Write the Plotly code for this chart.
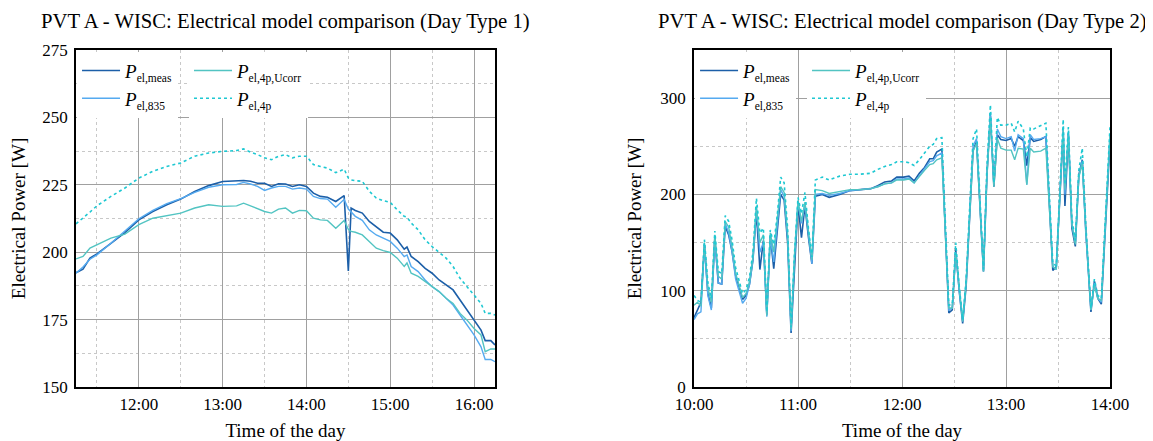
import plotly.graph_objects as go

DAY = "2021-06-01 "

# ---------------- Day Type 1 ----------------
t1 = ["11:15", "11:20", "11:25", "11:30", "11:40", "11:50", "12:00", "12:10", "12:20", "12:30",
      "12:40", "12:50", "13:00", "13:10", "13:15", "13:20", "13:25", "13:30", "13:35", "13:40",
      "13:45", "13:50", "13:55", "14:00", "14:05", "14:10", "14:15", "14:21", "14:27", "14:30",
      "14:32", "14:35", "14:40", "14:45", "14:50", "14:55", "15:00", "15:05", "15:10", "15:12",
      "15:15", "15:20", "15:25", "15:30", "15:35", "15:40", "15:45", "15:50", "15:55", "16:00",
      "16:05", "16:08", "16:12", "16:15"]
meas1 = [192.4, 193.7, 197.8, 199.4, 203.3, 207.3, 212.0, 215.1, 217.6, 219.7,
         222.5, 224.7, 226.2, 226.3, 226.6, 226.3, 225.6, 225.6, 224.4, 225.4,
         225.3, 224.4, 225.0, 224.4, 221.9, 220.7, 220.4, 218.8, 221.0, 193.0,
         216.4, 215.5, 214.5, 211.4, 209.5, 207.4, 207.1, 204.6, 201.1, 201.9,
         198.4, 196.5, 194.0, 192.2, 189.7, 187.9, 186.0, 182.3, 178.6, 175.1,
         171.1, 167.2, 167.2, 165.6]
p835_1 = [192.2, 194.5, 197.4, 199.0, 203.3, 207.7, 212.4, 215.5, 218.0, 219.9,
          222.2, 224.1, 225.0, 225.1, 225.9, 225.3, 224.4, 222.9, 223.8, 224.4,
          224.4, 223.4, 223.8, 223.4, 220.7, 219.9, 219.7, 216.7, 219.6, 216.0,
          215.0, 213.3, 211.8, 208.3, 206.4, 205.2, 204.0, 201.5, 198.4, 199.0,
          194.7, 192.8, 189.7, 187.2, 185.4, 182.9, 180.4, 176.7, 173.0, 169.3,
          164.9, 160.2, 160.2, 159.4]
ucorr1 = [197.5, 198.4, 201.5, 202.7, 205.2, 206.7, 210.2, 212.6, 213.5, 214.5,
          216.4, 217.6, 217.0, 217.2, 218.2, 217.2, 216.4, 215.1, 214.5, 216.0,
          216.4, 214.5, 215.5, 215.4, 212.6, 212.0, 211.8, 208.9, 211.8, 208.5,
          207.7, 207.4, 206.4, 204.0, 201.5, 200.6, 199.9, 197.8, 194.7, 196.0,
          192.2, 191.0, 189.1, 187.2, 185.4, 182.9, 181.0, 177.3, 174.8, 171.7,
          169.3, 163.1, 164.1, 164.1]
p4p_1 = [210.5, 212.6, 214.9, 217.2, 220.7, 223.8, 227.5, 230.0, 231.8, 233.1,
         235.6, 236.8, 237.4, 237.7, 238.3, 237.1, 236.2, 235.0, 234.3, 235.6,
         236.2, 235.0, 235.6, 235.6, 232.5, 231.8, 231.2, 229.5, 230.8, 227.5,
         226.8, 226.5, 226.3, 222.6, 220.1, 219.1, 218.5, 215.7, 213.3, 213.0,
         210.8, 208.3, 204.6, 202.1, 200.0, 197.8, 194.7, 190.3, 187.2, 184.1,
         181.0, 177.3, 177.3, 176.7]

# ---------------- Day Type 2 ----------------
t2 = ["10:00", "10:02", "10:04", "10:06", "10:08", "10:10", "10:12", "10:14", "10:16", "10:18",
      "10:20", "10:22", "10:24", "10:26", "10:28", "10:30", "10:32", "10:34", "10:36", "10:38",
      "10:40", "10:42", "10:44", "10:46", "10:48", "10:50", "10:52", "10:54", "10:56", "10:58",
      "11:00", "11:02", "11:04", "11:06", "11:08", "11:10", "11:14", "11:18", "11:24", "11:30",
      "11:36", "11:42", "11:46", "11:50", "11:54", "11:57", "12:01", "12:04", "12:07", "12:10",
      "12:13", "12:16", "12:18", "12:20", "12:23", "12:27", "12:29", "12:31", "12:33", "12:35",
      "12:37", "12:41", "12:43", "12:47", "12:49", "12:51", "12:53", "12:55", "12:57", "13:00",
      "13:03", "13:05", "13:07", "13:10", "13:12", "13:14", "13:16", "13:20", "13:23", "13:27",
      "13:29", "13:33", "13:34", "13:36", "13:38", "13:40", "13:42", "13:44", "13:46", "13:49",
      "13:51", "13:53", "13:55", "14:00"]
meas2 = [72, 80, 88, 148, 97, 82, 155, 108, 107, 167,
         158, 140, 116, 104, 91, 95, 107, 132, 182, 122,
         152, 75, 157, 123, 166, 200, 194, 150, 56, 130,
         190, 155, 188, 156, 128, 198, 200, 197, 200, 204,
         205, 206, 209, 213, 214, 218, 218, 219, 214, 222,
         228, 237, 237, 244, 247, 77, 80, 143, 100, 66,
         105, 246, 255, 120, 220, 282, 208, 262, 257, 256,
         258, 250, 260, 256, 230, 259, 255, 257, 260, 121,
         125, 265, 188, 263, 165, 146, 220, 236, 165, 78,
         110, 92, 86, 255]
p835_2 = [70, 76, 78, 146, 95, 80, 152, 108, 107, 170,
          160, 140, 112, 100, 87, 92, 106, 132, 186, 140,
          150, 73, 155, 130, 168, 205, 198, 155, 58, 135,
          192, 170, 190, 158, 128, 200, 201, 199, 201, 204,
          205, 206, 208, 211, 212, 216, 216, 217, 212, 219,
          226, 234, 235, 240, 243, 80, 82, 140, 100, 68,
          108, 250, 258, 120, 222, 285, 210, 268, 260, 258,
          260, 245, 262, 258, 210, 262, 257, 258, 260, 125,
          122, 270, 200, 265, 168, 150, 218, 235, 160, 80,
          108, 92, 88, 262]
ucorr2 = [85, 88, 84, 150, 103, 88, 158, 115, 112, 172,
          166, 145, 118, 106, 93, 97, 109, 135, 188, 150,
          158, 74, 160, 140, 172, 208, 202, 158, 60, 138,
          193, 172, 192, 160, 132, 205, 204, 201, 203, 205,
          205, 206, 208, 211, 212, 215, 215, 216, 212, 219,
          225, 231, 232, 236, 238, 82, 82, 140, 102, 68,
          108, 245, 253, 120, 220, 280, 208, 258, 248, 246,
          246, 236, 248, 247, 210, 248, 244, 245, 248, 125,
          122, 268, 205, 262, 170, 148, 218, 232, 165, 80,
          106, 92, 90, 262]
p4p_2 = [95, 90, 88, 153, 108, 92, 162, 120, 118, 178,
         172, 152, 124, 110, 97, 101, 114, 140, 196, 160,
         165, 78, 163, 148, 178, 218, 212, 165, 62, 140,
         197, 180, 202, 165, 135, 215, 218, 215, 219, 221,
         221, 222, 226, 229, 231, 234, 234, 233, 230, 236,
         243, 250, 252, 258, 259, 85, 86, 150, 105, 70,
         112, 258, 268, 122, 230, 293, 212, 280, 272, 272,
         274, 265, 276, 268, 239, 269, 268, 271, 274, 128,
         126, 278, 210, 270, 175, 152, 225, 248, 170, 82,
         112, 95, 92, 270]

subs = ["el,meas", "el,835", "el,4p,Ucorr", "el,4p"]
names = ['<i>P</i><sub><span style="font-size:11.5px">%s</span></sub>' % s for s in subs]
colors = ["#1c5fa8", "#55aaf0", "#52c4c2", "#1ec8d2"]
dashes = ["solid", "solid", "solid", "dot"]
widths = [1.6, 1.4, 1.4, 1.6]
column = [0, 0, 1, 1]          # legend column of each series

FONT = "Liberation Serif"
fig = go.Figure()

sets = [
    (t1, [meas1, p835_1, ucorr1, p4p_1], "x", "y", ["legend", "legend2"]),
    (t2, [meas2, p835_2, ucorr2, p4p_2], "x2", "y2", ["legend3", "legend4"]),
]
for times, series, xa, ya, lgs in sets:
    xs = [DAY + t for t in times]
    for i, vals in enumerate(series):
        fig.add_trace(go.Scatter(
            x=xs, y=vals, mode="lines", name=names[i],
            line=dict(color=colors[i], dash=dashes[i], width=widths[i]),
            xaxis=xa, yaxis=ya, legend=lgs[column[i]]))

grid_major = "#a0a0a0"
grid_minor = "#c8c8c8"
tickfont = dict(family=FONT, size=17, color="black")
titlefont = dict(family=FONT, size=19, color="black")


def xaxis_cfg(domain, r0, r1):
    return dict(
        domain=domain, type="date", range=[DAY + r0, DAY + r1],
        tick0=DAY + "00:00", dtick=3600000, tickformat="%H:%M",
        showgrid=True, gridcolor=grid_major, gridwidth=1.3,
        minor=dict(dtick=1800000, showgrid=True, gridcolor=grid_minor,
                   griddash="dot", gridwidth=1),
        showline=True, linecolor="black", linewidth=1.8, mirror=True,
        ticks="", ticklabelstandoff=1, tickfont=tickfont,
        title=dict(text="Time of the day", font=titlefont, standoff=19),
        zeroline=False, automargin=False)


def yaxis_cfg(anchor, r0, r1, dt):
    return dict(
        anchor=anchor, range=[r0, r1], dtick=dt, tick0=0, domain=[0, 1],
        showgrid=True, gridcolor=grid_major, gridwidth=1.3,
        minor=dict(dtick=dt / 2, showgrid=True, gridcolor=grid_minor,
                   griddash="dot", gridwidth=1),
        showline=True, linecolor="black", linewidth=1.8, mirror=True,
        ticks="", ticklabelstandoff=3, tickfont=tickfont,
        title=dict(text="Electrical Power [W]", font=titlefont, standoff=14),
        zeroline=False, automargin=False)


d1 = [0.0, 0.4052]
d2 = [0.5977, 1.0]
col_gap = 113 / 1034

legend_common = dict(
    orientation="v", xanchor="left", yanchor="top", y=0.995,
    bgcolor="white", borderwidth=0, tracegroupgap=0,
    font=dict(family=FONT, size=19, color="black"),
    itemwidth=38,
)

fig.update_layout(
    width=1145, height=433,
    margin=dict(l=68, r=43, t=42, b=54, autoexpand=False),
    paper_bgcolor="white", plot_bgcolor="white",
    font=dict(family=FONT, color="black"),
    xaxis=xaxis_cfg(d1, "11:15", "16:15"),
    yaxis=yaxis_cfg("x", 150, 275, 25),
    xaxis2=xaxis_cfg(d2, "10:00", "14:00"),
    yaxis2=yaxis_cfg("x2", 0, 350, 100),
    legend=dict(legend_common, x=d1[0] + 0.001),
    legend2=dict(legend_common, x=d1[0] + col_gap),
    legend3=dict(legend_common, x=d2[0] + 0.001),
    legend4=dict(legend_common, x=d2[0] + col_gap),
    annotations=[
        dict(text="PVT A - WISC: Electrical model comparison (Day Type 1)",
             x=(d1[0] + d1[1]) / 2, y=1, xref="paper", yref="paper",
             xanchor="center", yanchor="bottom", yshift=15, showarrow=False,
             font=dict(family=FONT, size=20.7, color="black")),
        dict(text="PVT A - WISC: Electrical model comparison (Day Type 2)",
             x=(d2[0] + d2[1]) / 2, y=1, xref="paper", yref="paper",
             xanchor="center", yanchor="bottom", yshift=15, showarrow=False,
             font=dict(family=FONT, size=20.7, color="black")),
    ],
)

fig.write_html("out.html")
